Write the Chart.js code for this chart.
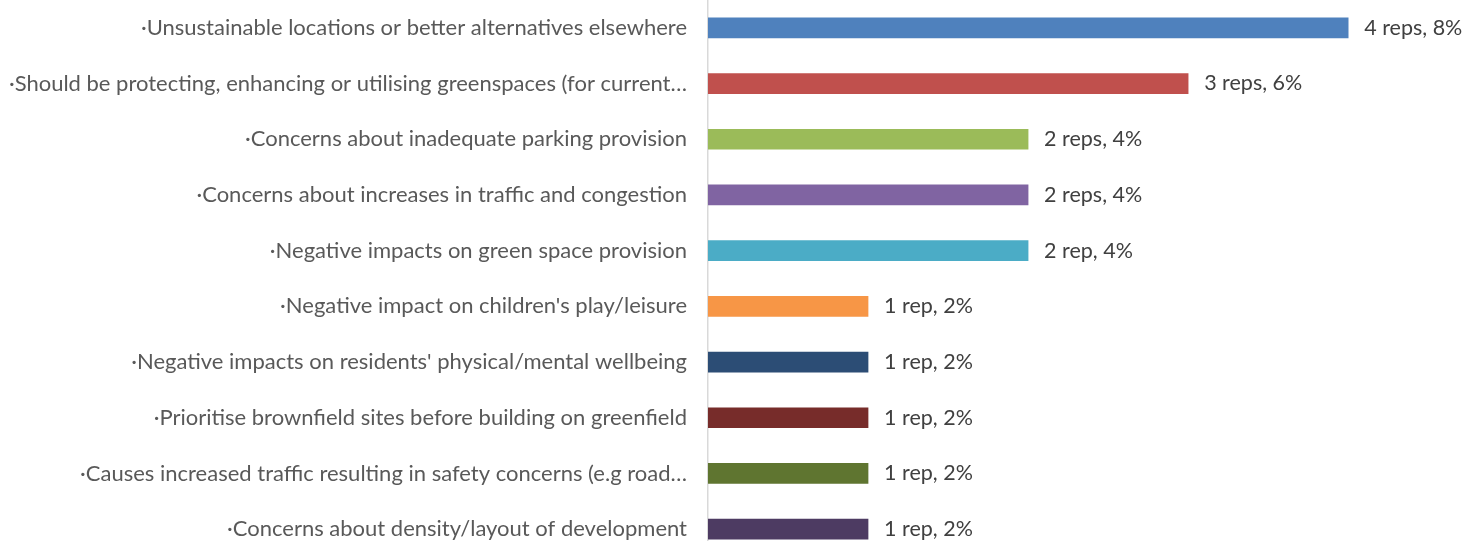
<!DOCTYPE html>
<html>
<head>
<meta charset="utf-8">
<script src="https://cdn.jsdelivr.net/npm/chart.js@4/dist/chart.umd.min.js"></script>
<style>
  html, body { margin: 0; padding: 0; background: #fff; overflow: hidden; }
  #wrap { width: 1465px; height: 557px; position: relative; }
</style>
</head>
<body>
<div id="wrap"><canvas id="myChart"></canvas></div>
<script>
// categorias, de cima para baixo
const categories = [
    '·Unsustainable locations or better alternatives elsewhere',
    '·Should be protecting, enhancing or utilising greenspaces (for current…',
    '·Concerns about inadequate parking provision',
    '·Concerns about increases in traffic and congestion',
    '·Negative impacts on green space provision',
    "·Negative impact on children's play/leisure",
    "·Negative impacts on residents' physical/mental wellbeing",
    '·Prioritise brownfield sites before building on greenfield',
    '·Causes increased traffic resulting in safety concerns (e.g road…',
    '·Concerns about density/layout of development'
];
const reps = [4, 3, 2, 2, 2, 1, 1, 1, 1, 1];
const valueLabels = [
    '4 reps, 8%', '3 reps, 6%', '2 reps, 4%', '2 reps, 4%', '2 rep, 4%',
    '1 rep, 2%', '1 rep, 2%', '1 rep, 2%', '1 rep, 2%', '1 rep, 2%'
];
const barColors = [
    '#4F81BD', '#C0504D', '#9BBB59', '#8064A2', '#4BACC6',
    '#F79646', '#2C4D75', '#772C2A', '#5F7530', '#4D3B62'
];

const FONT = 'Lato, "Open Sans", sans-serif';

// texto à direita de cada barra
const barValueLabels = {
    id: 'barValueLabels',
    afterDatasetsDraw(chart) {
        const ctx = chart.ctx;
        const meta = chart.getDatasetMeta(0);
        ctx.save();
        ctx.font = '21.5px ' + FONT;
        ctx.fillStyle = '#404040';
        ctx.textAlign = 'left';
        ctx.textBaseline = 'middle';
        meta.data.forEach((bar, i) => {
            ctx.fillText(valueLabels[i], bar.x + 16, bar.y);
        });
        ctx.restore();
    }
};

new Chart(document.getElementById('myChart'), {
    type: 'bar',
    data: {
        labels: categories,
        datasets: [{
            data: reps,
            backgroundColor: barColors,
            borderWidth: 0,
            barThickness: 20
        }]
    },
    options: {
        indexAxis: 'y',
        responsive: true,
        maintainAspectRatio: false,
        animation: false,
        layout: { padding: 0 },
        scales: {
            x: {
                display: false,
                min: 0,
                max: 4.73
            },
            y: {
                afterFit(scale) {
                    scale.width = 708;
                    scale.paddingTop = 0;
                    scale.paddingBottom = 0;
                },
                grid: { display: false, drawTicks: false },
                border: { display: true, color: '#d9d9d9', width: 1.5 },
                ticks: {
                    autoSkip: false,
                    padding: 21,
                    color: '#595959',
                    font: { family: FONT, size: 22 }
                }
            }
        },
        plugins: {
            legend: { display: false },
            tooltip: { enabled: false }
        }
    },
    plugins: [barValueLabels]
});
</script>
</body>
</html>
